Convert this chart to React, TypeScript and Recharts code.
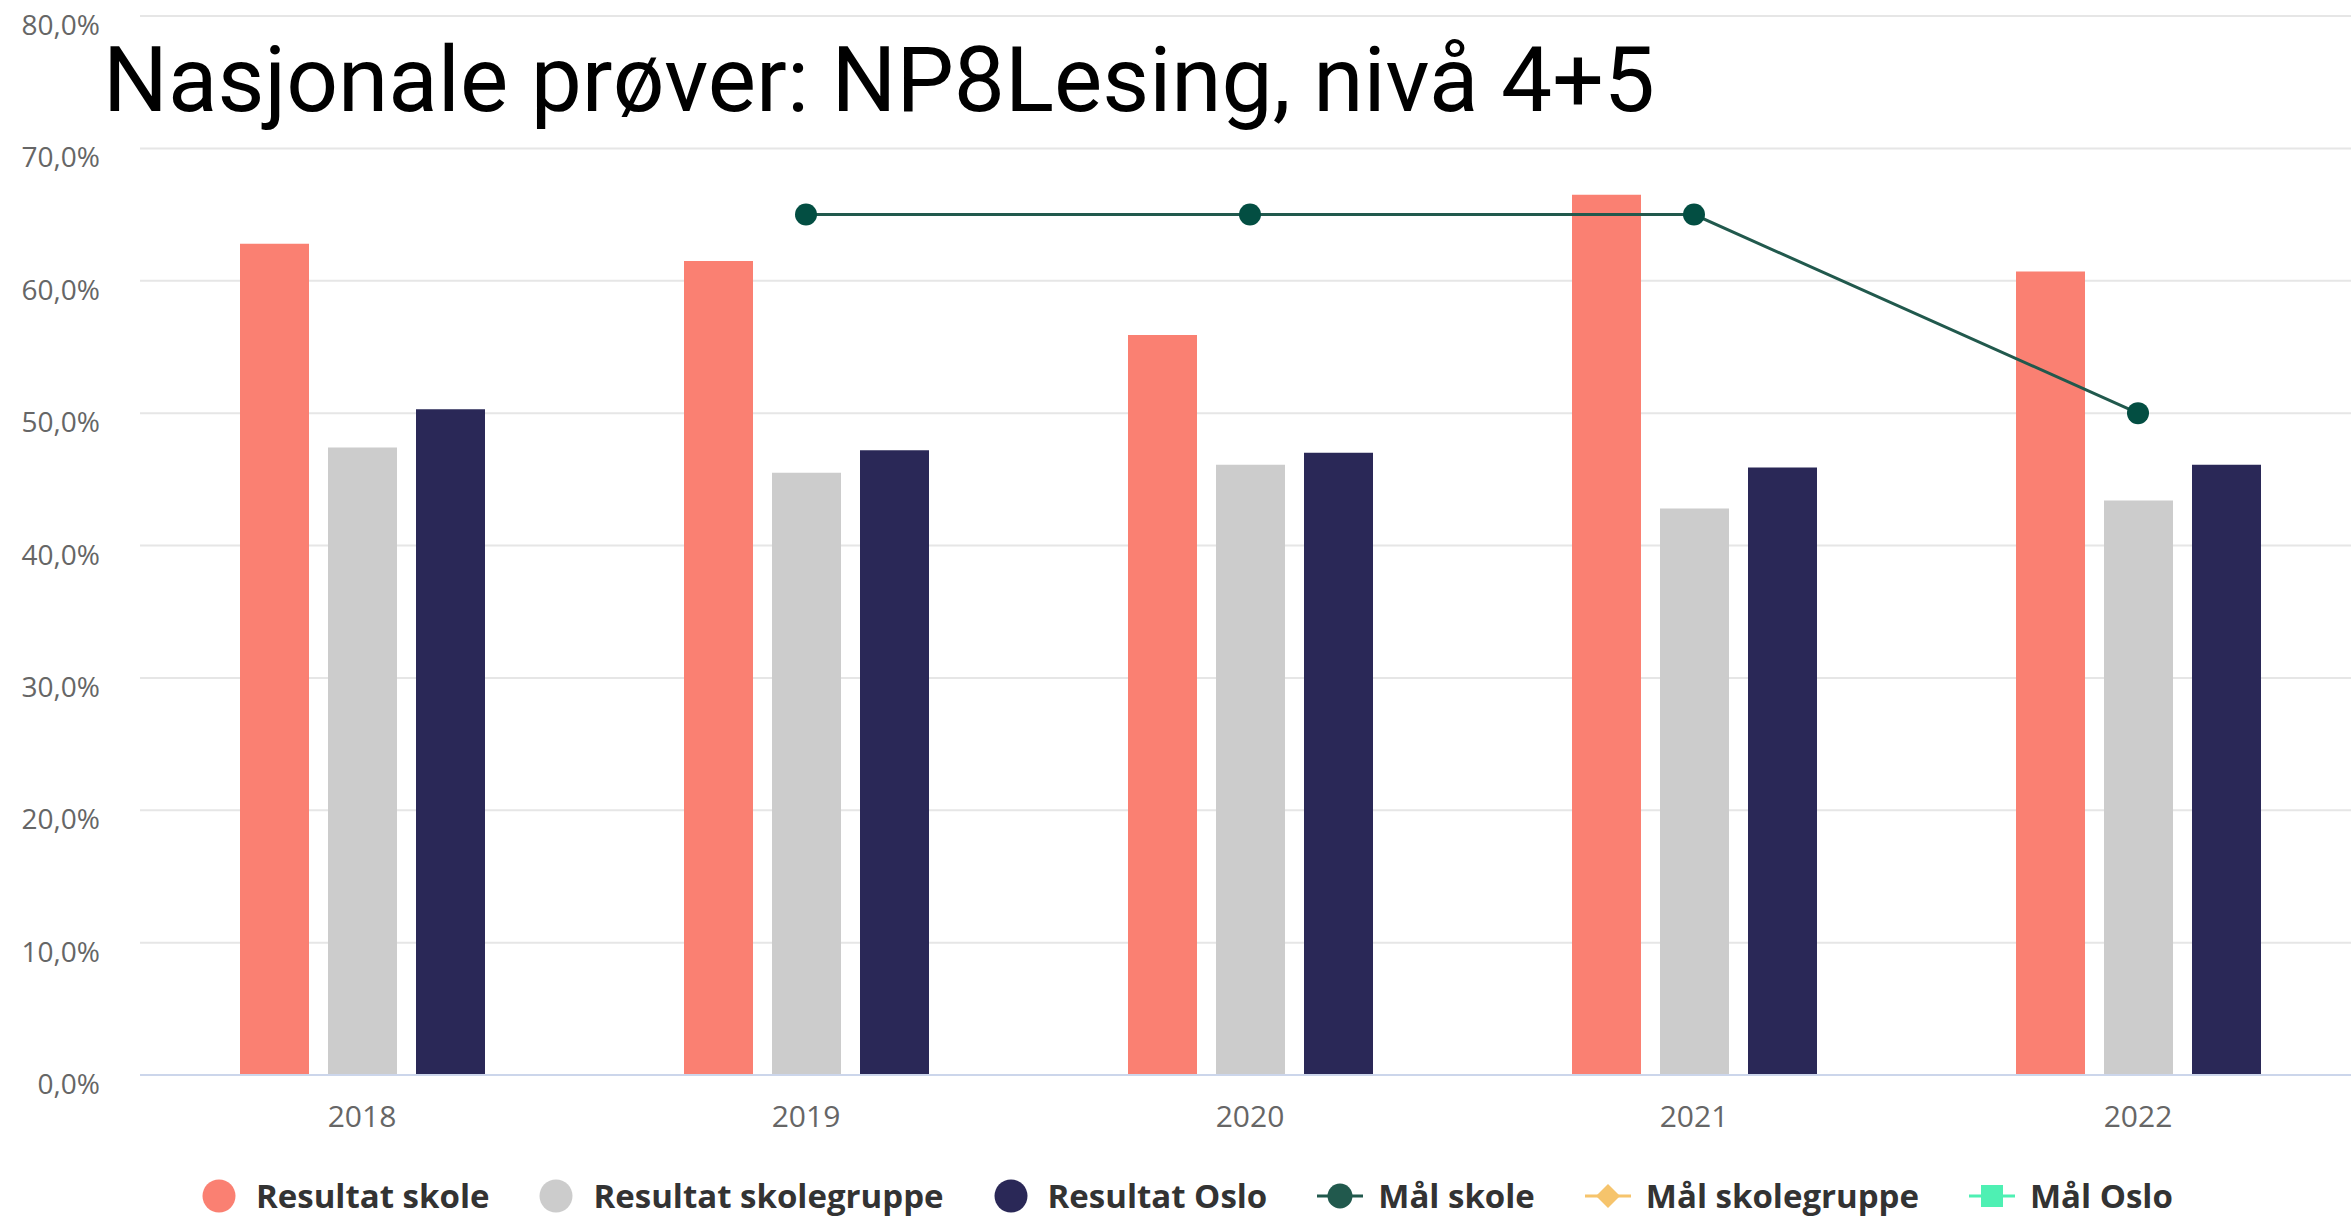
import React from 'react';
import { ComposedChart, Bar, Line, XAxis, YAxis, CartesianGrid, Legend } from 'recharts';

const years = ['2018', '2019', '2020', '2021', '2022'];
const resultatSkole = [62.8, 61.5, 55.9, 66.5, 60.7];
const resultatSkolegruppe = [47.4, 45.5, 46.1, 42.8, 43.4];
const resultatOslo = [50.3, 47.2, 47.0, 45.9, 46.1];
const maalSkole = [null, 65, 65, 65, 50];
const maalSkolegruppe = [null, null, null, null, null];
const maalOslo = [null, null, null, null, null];
const yTicks = [0, 10, 20, 30, 40, 50, 60, 70, 80];

const seriesNames = ['Resultat skole', 'Resultat skolegruppe', 'Resultat Oslo', 'Mål skole', 'Mål skolegruppe', 'Mål Oslo'];
const seriesMarkers = ['circle', 'circle', 'circle', 'lineCircle', 'lineDiamond', 'lineSquare'];

const data = years.map((year, i) => ({
    year,
    resultatSkole: resultatSkole[i],
    resultatSkolegruppe: resultatSkolegruppe[i],
    resultatOslo: resultatOslo[i],
    maalSkole: maalSkole[i],
    maalSkolegruppe: maalSkolegruppe[i],
    maalOslo: maalOslo[i],
}));

const fmt = (v: number) => v.toFixed(1).replace('.', ',') + '%';

function XTick({ x, y, payload }: any) {
    return (
        <text x={x} y={y + 52} textAnchor="middle" fill="#666" fontSize={30} fontFamily="Open Sans">
            {payload.value}
        </text>
    );
}

function YTick({ x, y, payload }: any) {
    return (
        <text x={x - 40} y={y + 19} textAnchor="end" fill="#666" fontSize={28} fontFamily="Open Sans">
            {fmt(payload.value)}
        </text>
    );
}

function LegendIcon({ kind, color }: { kind: string; color: string }) {
    if (kind === 'circle') {
        return (
            <svg width={34} height={34} style={{ marginRight: 20 }}>
                <circle cx={17} cy={17} r={16.5} fill={color} />
            </svg>
        );
    }
    return (
        <svg width={46} height={34} style={{ marginRight: 15 }}>
            <line x1={0} y1={17} x2={46} y2={17} stroke={color} strokeWidth={3} />
            {kind === 'lineCircle' && <circle cx={23} cy={17} r={12.5} fill={color} />}
            {kind === 'lineDiamond' && <polygon points="23,5 35,17 23,29 11,17" fill={color} />}
            {kind === 'lineSquare' && <rect x={12} y={6} width={22} height={22} fill={color} />}
        </svg>
    );
}

function renderLegend(props: any) {
    const items = [...props.payload].sort(
        (a: any, b: any) => seriesNames.indexOf(a.value) - seriesNames.indexOf(b.value)
    );
    return (
        <div
            style={{
                height: 82,
                boxSizing: 'border-box',
                paddingTop: 40,
                paddingLeft: 202,
                display: 'flex',
                alignItems: 'center',
                fontFamily: 'Open Sans',
                fontWeight: 700,
                fontSize: 33,
                color: '#333',
            }}
        >
            {items.map((entry: any) => (
                <div key={entry.value} style={{ display: 'flex', alignItems: 'center', marginRight: 50, height: 34 }}>
                    <LegendIcon kind={seriesMarkers[seriesNames.indexOf(entry.value)]} color={entry.color} />
                    <span style={{ lineHeight: '34px' }}>{entry.value}</span>
                </div>
            ))}
        </div>
    );
}

export default function App() {
    return (
        <div style={{ position: 'absolute', left: 0, top: 0, width: 2351, height: 1217, overflow: 'hidden', background: '#fff' }}>
            <ComposedChart
                width={2370}
                height={1217}
                data={data}
                margin={{ top: 16, right: 10, bottom: 0, left: 0 }}
                barSize={69}
                barGap={19}
            >
                <CartesianGrid vertical={false} stroke="#e6e6e6" strokeWidth={2} />
                <XAxis
                    dataKey="year"
                    height={60}
                    tickLine={false}
                    tickSize={0}
                    tickMargin={0}
                    axisLine={{ stroke: '#ccd6eb', strokeWidth: 2 }}
                    tick={<XTick />}
                />
                <YAxis
                    width={140}
                    domain={[0, 80]}
                    ticks={yTicks}
                    axisLine={false}
                    tickLine={false}
                    tickSize={0}
                    tickMargin={0}
                    tick={<YTick />}
                />
                <Legend verticalAlign="bottom" content={renderLegend} />
                <Bar dataKey="resultatSkole" name={seriesNames[0]} fill="#fa8072" isAnimationActive={false} />
                <Bar dataKey="resultatSkolegruppe" name={seriesNames[1]} fill="#cccccc" isAnimationActive={false} />
                <Bar dataKey="resultatOslo" name={seriesNames[2]} fill="#2a2857" isAnimationActive={false} />
                <Line
                    dataKey="maalSkole"
                    name={seriesNames[3]}
                    stroke="#21594d"
                    strokeWidth={3}
                    dot={{ r: 11, fill: '#034e42', stroke: 'none' }}
                    color="#034e42"
                    isAnimationActive={false}
                />
                <Line dataKey="maalSkolegruppe" name={seriesNames[4]} stroke="#f6c46c" strokeWidth={3} isAnimationActive={false} />
                <Line dataKey="maalOslo" name={seriesNames[5]} stroke="#4ef0b3" strokeWidth={3} isAnimationActive={false} />
            </ComposedChart>
            <div
                style={{
                    position: 'absolute',
                    left: 103,
                    top: 35,
                    fontFamily: 'Roboto',
                    fontSize: 91,
                    lineHeight: '91px',
                    color: '#000',
                    whiteSpace: 'nowrap',
                }}
            >
                Nasjonale prøver: NP8Lesing, nivå 4+5
            </div>
        </div>
    );
}
